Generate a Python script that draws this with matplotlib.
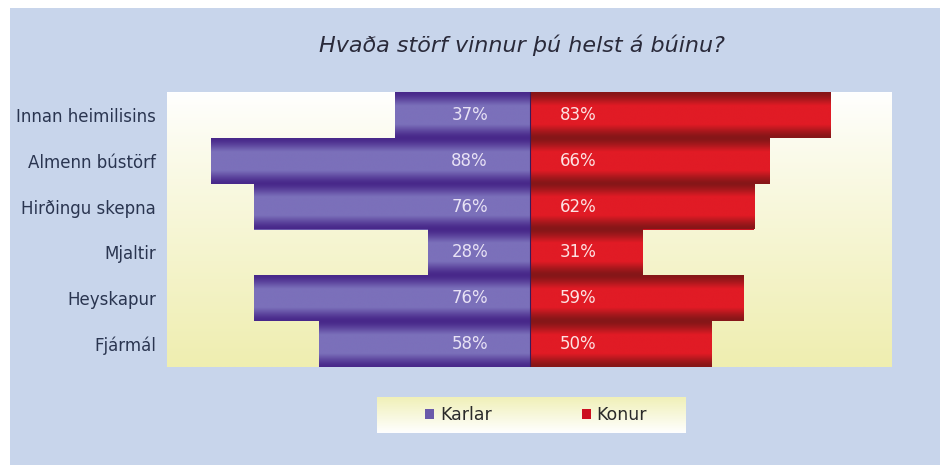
import numpy as np
import matplotlib
matplotlib.use("Agg")
import matplotlib.pyplot as plt
from matplotlib.colors import to_rgb
from matplotlib.patches import Rectangle, Patch

categories = ["Innan heimilisins", "Almenn bústörf", "Hirðingu skepna",
              "Mjaltir", "Heyskapur", "Fjármál"]
karlar = [37, 88, 76, 28, 76, 58]
konur = [83, 66, 62, 31, 59, 50]
series_names = ["Karlar", "Konur"]
title = "Hvaða störf vinnur þú helst á búinu?"

W, H = 949, 475
fig = plt.figure(figsize=(W / 100, H / 100), dpi=100)
fig.patch.set_facecolor("white")

# light blue panel
fig.patches.append(Rectangle((10 / W, 10 / H), 930 / W, 457 / H,
                             transform=fig.transFigure, facecolor="#c8d5eb",
                             edgecolor="none", zorder=-10))

ax = fig.add_axes([167 / W, (H - 367) / H, (892 - 167) / W, (367 - 92) / H])
y = np.arange(len(categories))

# background gradient (white top -> pale yellow bottom)
top = np.array(to_rgb("#ffffff"))
bot = np.array(to_rgb("#efeeb0"))
t = np.linspace(0, 1, 256)[:, None]
bg = top + (bot - top) * (t ** 0.9)
bg = np.repeat(bg[:, None, :], 2, axis=1)
ax.imshow(bg, extent=[-100, 100, len(categories) - 0.5, -0.5], aspect="auto",
          zorder=0, interpolation="bilinear")

def bar_gradient(dark, light, n=128):
    d = np.array(to_rgb(dark))
    l = np.array(to_rgb(light))
    tt = np.linspace(0, 1, n)
    prof = np.clip(np.sin(np.pi * tt) * 1.25, 0, 1) ** 1.6
    g = d + (l - d) * prof[:, None]
    return np.repeat(g[:, None, :], 2, axis=1)

grad_k = bar_gradient("#48288a", "#7b70ba")
grad_c = bar_gradient("#861618", "#e11b25")

bars_k = ax.barh(y, [-v for v in karlar], height=1.0, color="#6a5aaa",
                 edgecolor="none", zorder=1, label=series_names[0])
bars_c = ax.barh(y, konur, height=1.0, color="#cc1020",
                 edgecolor="none", zorder=1, label=series_names[1])

for bars, grad in ((bars_k, grad_k), (bars_c, grad_c)):
    for p in bars:
        x0, x1 = p.get_x(), p.get_x() + p.get_width()
        y0, y1 = p.get_y(), p.get_y() + p.get_height()
        ax.imshow(grad, extent=[min(x0, x1), max(x0, x1), y1, y0],
                  aspect="auto", zorder=2, interpolation="bilinear")

ax.set_xlim(-100, 100)
ax.set_ylim(len(categories) - 0.5, -0.5)
ax.axvline(0, color="#3a1a5a", lw=0.8, zorder=3)

for i, (k, c) in enumerate(zip(karlar, konur)):
    ax.text(-16.5, i, f"{k}%", ha="center", va="center", fontsize=12,
            color="#e8e2f5", zorder=4)
    ax.text(13.5, i, f"{c}%", ha="center", va="center", fontsize=12,
            color="#fde2e2", zorder=4)

ax.set_yticks(y, categories)
ax.tick_params(axis="y", length=0, pad=8, labelsize=12, labelcolor="#2a3550")
ax.set_xticks([])
for s in ax.spines.values():
    s.set_visible(False)

fig.text(522 / W, 1 - 45 / H, title, ha="center", va="center",
         fontsize=16, style="italic", color="#2a2a3a")

# legend box
lax = fig.add_axes([377 / W, (H - 433) / H, (686 - 377) / W, (433 - 397) / H])
ltop = np.array(to_rgb("#f0f0b8"))
lbot = np.array(to_rgb("#ffffff"))
lg = ltop + (lbot - ltop) * np.linspace(0, 1, 64)[:, None]
lax.imshow(np.repeat(lg[:, None, :], 2, axis=1), extent=[0, 1, 0, 1],
           aspect="auto", interpolation="bilinear")
lax.set_xlim(0, 1)
lax.set_ylim(0, 1)
lax.axis("off")
handles = [Patch(facecolor="#6a5aaa", edgecolor="none"),
           Patch(facecolor="#cc1020", edgecolor="none")]
lax.legend(handles, series_names, loc="center", ncol=2, frameon=False,
           fontsize=12.5, handlelength=0.5, handleheight=0.5,
           handletextpad=0.35, columnspacing=5.2, labelcolor="#2a2a2a",
           bbox_to_anchor=(0.515, 0.5))

fig.savefig("out.png", dpi=100, facecolor="white")
